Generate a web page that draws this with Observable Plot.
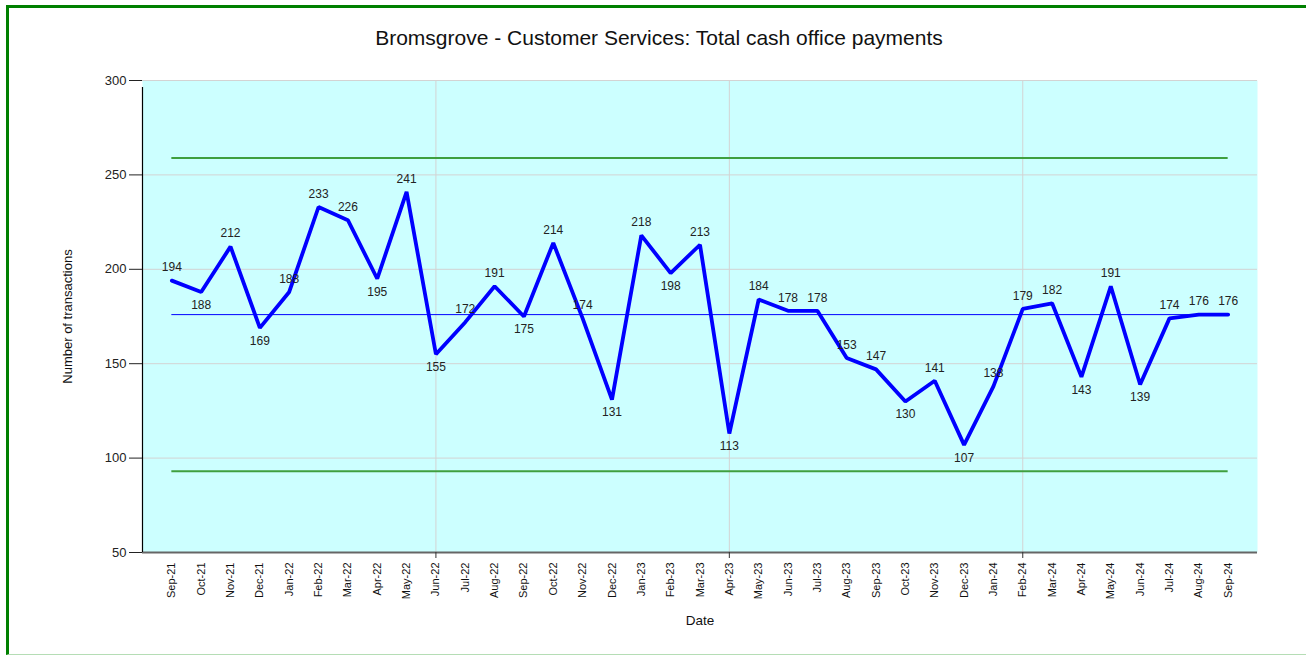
<!DOCTYPE html>
<html>
<head>
<meta charset="utf-8">
<script src="https://cdn.jsdelivr.net/npm/d3@7"></script>
<script src="https://cdn.jsdelivr.net/npm/@observablehq/plot@0.6"></script>
<style>
  html, body { margin: 0; padding: 0; background: #fff; }
  #wrap { position: relative; width: 1306px; height: 655px; overflow: hidden; font-family: "Liberation Sans", Arial, sans-serif; }
  #chart { position: absolute; left: 0; top: 0; }
  #border { position: absolute; left: 6px; top: 5px; width: 1300px; height: 650px; box-sizing: border-box;
            border-left: 3px solid #008000; border-top: 3px solid #008000; border-bottom: 1px solid #b5ddb5;
            pointer-events: none; }
</style>
</head>
<body>
<div id="wrap">
  <div id="chart"></div>
  <div id="border"></div>
</div>
<script>
const titleText = "Bromsgrove - Customer Services: Total cash office payments";
const yLabel = "Number of transactions";
const xLabel = "Date";

const months = ["Sep-21","Oct-21","Nov-21","Dec-21","Jan-22","Feb-22","Mar-22","Apr-22","May-22","Jun-22",
  "Jul-22","Aug-22","Sep-22","Oct-22","Nov-22","Dec-22","Jan-23","Feb-23","Mar-23","Apr-23",
  "May-23","Jun-23","Jul-23","Aug-23","Sep-23","Oct-23","Nov-23","Dec-23","Jan-24","Feb-24",
  "Mar-24","Apr-24","May-24","Jun-24","Jul-24","Aug-24","Sep-24"];
const values = [194,188,212,169,188,233,226,195,241,155,
  172,191,175,214,174,131,218,198,213,113,
  184,178,178,153,147,130,141,107,138,179,
  182,143,191,139,174,176,176];
const meanLevel = [176];
const upperLimit = [259];
const lowerLimit = [93];
const yTicks = [50, 100, 150, 200, 250, 300];
const xGridMonths = ["Jun-22", "Apr-23", "Feb-24"];

const data = months.map((m, i) => {
  const v = values[i];
  const prev = i > 0 ? values[i - 1] : Infinity;
  const next = i < values.length - 1 ? values[i + 1] : Infinity;
  return {i, month: m, value: v, below: v < prev && v < next};
});
const xGridIdx = xGridMonths.map(m => months.indexOf(m));
const last = months.length - 1;

const font = '"Liberation Sans", Arial, sans-serif';

const chart = Plot.plot({
  width: 1306,
  height: 655,
  marginLeft: 142,
  marginRight: 49,
  marginTop: 80,
  marginBottom: 103,
  style: {fontFamily: font, background: "transparent", overflow: "visible", color: "#222"},
  x: {type: "linear", domain: [-1, months.length]},
  y: {domain: [50, 300]},
  marks: [
    Plot.frame({fill: "#ccffff", stroke: "none"}),
    Plot.gridY(yTicks.slice(1), {stroke: "#d3d3d3", strokeOpacity: 1}),
    Plot.gridX(xGridIdx, {stroke: "#d3d3d3", strokeOpacity: 1}),
    Plot.ruleY(upperLimit, {x1: () => 0, x2: () => last, stroke: "#3f9f3f", strokeWidth: 2}),
    Plot.ruleY(lowerLimit, {x1: () => 0, x2: () => last, stroke: "#3f9f3f", strokeWidth: 2}),
    Plot.ruleY(meanLevel, {x1: () => 0, x2: () => last, stroke: "#0000ff", strokeWidth: 1}),
    Plot.line(data, {x: "i", y: "value", stroke: "#0000ff", strokeWidth: 3.8, strokeLinejoin: "miter"}),
    Plot.text(data.filter(d => !d.below), {x: "i", y: "value", text: d => String(d.value), dy: -13, fontSize: 12, fill: "#222"}),
    Plot.text(data.filter(d => d.below), {x: "i", y: "value", text: d => String(d.value), dy: 13, fontSize: 12, fill: "#222"}),
    Plot.ruleY([50], {stroke: "#666", strokeWidth: 2}),
    Plot.ruleX([-1], {y1: () => 50, y2: () => 300, stroke: "#000", strokeWidth: 1.2, insetBottom: -7}),
    Plot.axisY({ticks: yTicks, tickSize: 13, tickPadding: 3, fontSize: 13, label: null, color: "#222"}),
    Plot.axisX({ticks: xGridIdx, tickSize: 6, tickFormat: () => "", label: null, color: "#333"}),
    Plot.axisX({ticks: d3.range(months.length), tickFormat: i => months[i], tickRotate: -90, tickSize: 0,
      tickPadding: 10, fontSize: 11, label: null, color: "#111"}),
    Plot.text([titleText], {frameAnchor: "top", dx: -41, dy: -42, fontSize: 21, fill: "#111", lineAnchor: "middle"}),
    Plot.text([yLabel], {frameAnchor: "left", dx: -75, rotate: -90, textAnchor: "middle", fontSize: 13, fill: "#111"}),
    Plot.text([xLabel], {frameAnchor: "bottom", dy: 72, fontSize: 13.5, fill: "#111"})
  ]
});
document.getElementById("chart").appendChild(chart);
</script>
</body>
</html>
